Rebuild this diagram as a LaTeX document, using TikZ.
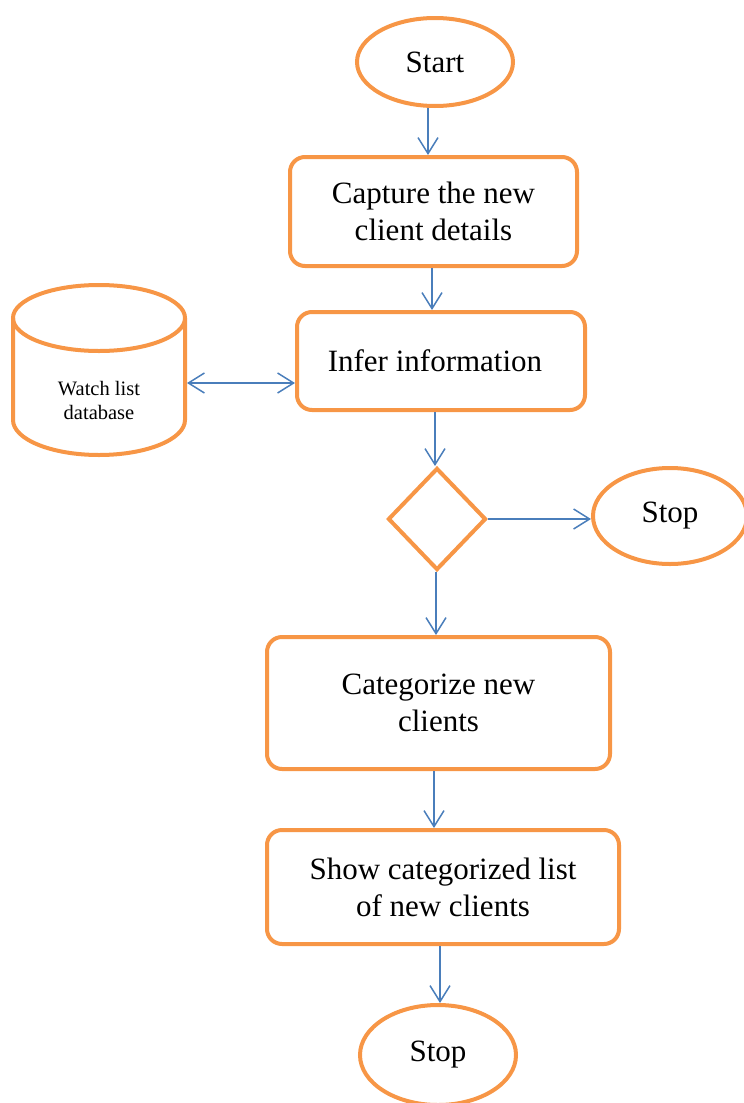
\documentclass[tikz,border=0pt]{standalone}
\usepackage{fontspec}
\setmainfont{Liberation Serif}
\usetikzlibrary{shapes.geometric,arrows.meta}
\definecolor{flowOrange}{HTML}{F79646}
\definecolor{flowBlue}{HTML}{4A7EBB}
\tikzset{
  box/.style={draw=flowOrange, line width=4pt, rounded corners=15pt, fill=white,
    align=center, inner sep=0pt, font=\fontsize{31}{37}\selectfont},
  term/.style={draw=flowOrange, line width=4pt, ellipse, inner sep=0pt,
    font=\fontsize{31}{37}\selectfont},
  decision/.style={draw=flowOrange, line width=4pt, diamond, inner sep=0pt},
  arr/.style={draw=flowBlue, line width=1.5pt, -{Straight Barb[length=16pt,width=20pt,line width=1.5pt]}},
  darr/.style={draw=flowBlue, line width=1.5pt, {Straight Barb[length=16pt,width=20pt,line width=1.5pt]}-{Straight Barb[length=16pt,width=20pt,line width=1.5pt]}}
}
\begin{document}
\begin{tikzpicture}[x=1pt,y=-1pt]
  \clip (0,0) rectangle (744,1103);
  \useasboundingbox (0,0) rectangle (744,1103);

  % main column
  \node[term, minimum width=156, minimum height=88] (start) at (435,62) {Start};
  \node[box, minimum width=287, minimum height=109] (capture) at (433.5,211.5)
    {Capture the new\\client details};
  \node[box, minimum width=288, minimum height=98] (infer) at (441,361)
    {Infer information\hspace*{12pt}};
  \node[decision, minimum width=98, minimum height=102] (check) at (437,519) {};
  \node[term, minimum width=154, minimum height=96] (stopR) at (670,516) {Stop};
  \node[box, minimum width=343, minimum height=132] (categorize) at (438.5,703)
    {Categorize new\\clients};
  \node[box, minimum width=352, minimum height=114] (show) at (443,887)
    {Show categorized list\\of new clients};
  \node[term, minimum width=156, minimum height=100] (stopB) at (438,1055) {Stop};

  % watch list database cylinder
  \draw[flowOrange, line width=4pt, fill=white]
    (13,318) -- (13,420) arc[start angle=180, end angle=360, x radius=86pt, y radius=35pt]
    -- (185,318);
  \draw[flowOrange, line width=4pt] (99,318) ellipse [x radius=86pt, y radius=33pt];
  \node[inner sep=0pt, minimum width=172, minimum height=1, align=center,
    font=\fontsize{20.5}{24}\selectfont] (db) at (99,400) {Watch list\\database};
  \coordinate (dbport) at (187,383);

  % connectors
  \draw[arr] ([xshift=-7pt]start.south) -- ([xshift=-5.5pt]capture.north);
  \draw[arr] ([xshift=-1.5pt]capture.south) -- ([xshift=-9pt]infer.north);
  \draw[darr] (dbport) -- (dbport -| infer.west);
  \draw[arr] ([xshift=-6pt]infer.south) -- ([xshift=-2pt]check.north);
  \draw[arr] (check.east) -- (check.east -| stopR.west);
  \draw[arr] ([xshift=-1pt]check.south) -- ([xshift=-2.5pt]categorize.north);
  \draw[arr] ([xshift=-4.5pt]categorize.south) -- ([xshift=-9pt]show.north);
  \draw[arr] ([xshift=-3pt]show.south) -- ([xshift=2pt]stopB.north);
\end{tikzpicture}
\end{document}
